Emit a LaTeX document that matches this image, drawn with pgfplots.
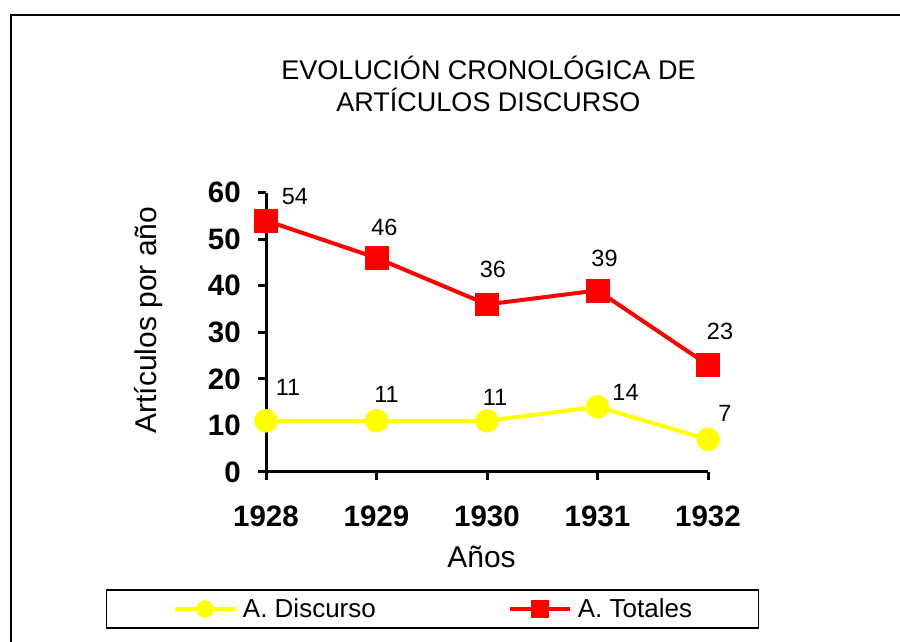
\documentclass[border=0pt]{standalone}
\usepackage{fontspec}
\setmainfont{Liberation Sans}
\usepackage{pgfplots}
\usepackage{pgfplotstable}
\pgfplotsset{compat=1.18}

\definecolor{ylw}{RGB}{255,255,0}
\definecolor{rd}{RGB}{255,0,0}

\pgfplotstableread{
year val dx dy
1928 11 22 33
1929 11 10 26
1930 11 8 23
1931 14 28 14
1932 7 17 26
}\discurso
\pgfplotstableread{
year val dx dy
1928 54 29 24
1929 46 8 30
1930 36 6 35
1931 39 7 32.5
1932 23 12 34
}\totales

\begin{document}
\begin{tikzpicture}
\draw[line width=2pt] (11.3pt,627pt) rectangle (1000pt,-100pt);
\node[anchor=base, font=\fontsize{27}{30}\selectfont] at (488.5pt,562pt) {EVOLUCIÓN CRONOLÓGICA DE};
\node[anchor=base, font=\fontsize{27}{30}\selectfont] at (488.5pt,530pt) {ARTÍCULOS DISCURSO};
\begin{axis}[
  at={(266pt,170pt)}, anchor=south west,
  scale only axis, width=442pt, height=279.3pt,
  xmin=1928, xmax=1932, ymin=0, ymax=60,
  axis lines*=left,
  axis line style={line width=3pt, black},
  xtick={1928,1929,1930,1931,1932},
  ytick={0,10,20,30,40,50,60},
  tick align=outside, major tick length=8pt,
  every tick/.style={line width=3pt, black},
  xtick style={line width=3pt, black},
  ytick style={line width=3pt, black},
  clip=false,
  /pgf/number format/assume math mode=true,
  /pgf/number format/1000 sep={},
  xticklabel style={font=\fontsize{29.5}{30}\selectfont\bfseries, anchor=north, inner sep=0pt, yshift=-26pt},
  yticklabel style={font=\fontsize{29.5}{30}\selectfont\bfseries, anchor=east, inner sep=0pt, xshift=-17pt},
  xlabel={Años},
  ylabel={Artículos por año},
  xlabel style={font=\fontsize{30}{32}\selectfont, at={(axis description cs:0.4876,-0.3437)}, anchor=base},
  ylabel style={font=\fontsize{30}{32}\selectfont, at={(axis description cs:-0.2658,0.5442)}, anchor=center, rotate=0},
  legend columns=2,
  legend style={at={(axis description cs:0.3767,-0.4905)}, anchor=center,
    draw=black, line width=1.5pt, inner xsep=66.5pt, inner ysep=9pt,
    font=\fontsize{26}{28}\selectfont,
    nodes={inner sep=0pt},
    /tikz/every odd column/.append style={column sep=6pt},
    /tikz/every even column/.append style={column sep=132pt}},
  legend image code/.code={\draw[#1, mark size=8.5pt, mark repeat=2, mark phase=2] plot coordinates {(0pt,0pt) (30pt,0pt) (60pt,0pt)};},
  nodes near coords,
  point meta=explicit symbolic,
  visualization depends on={\thisrow{dx} \as \dx},
  visualization depends on={\thisrow{dy} \as \dy},
  every node near coord/.append style={font=\fontsize{23.5}{25}\selectfont, black, anchor=center, inner sep=0pt, xshift=\dx pt, yshift=\dy pt},
]
\addplot[ylw, line width=4pt, mark=*, mark size=11.5pt, mark options={fill=ylw, draw=ylw, line width=0.5pt}] table[x=year, y=val, meta=val] {\discurso};
\addlegendentry{A. Discurso}
\addplot[rd, line width=4pt, mark=square*, mark size=11.3pt, mark options={fill=rd, draw=rd, line width=0.5pt}] table[x=year, y=val, meta=val] {\totales};
\addlegendentry{A. Totales}
\end{axis}
\pgfresetboundingbox
\useasboundingbox (0pt,0pt) rectangle (900pt,642pt);
\end{tikzpicture}
\end{document}
